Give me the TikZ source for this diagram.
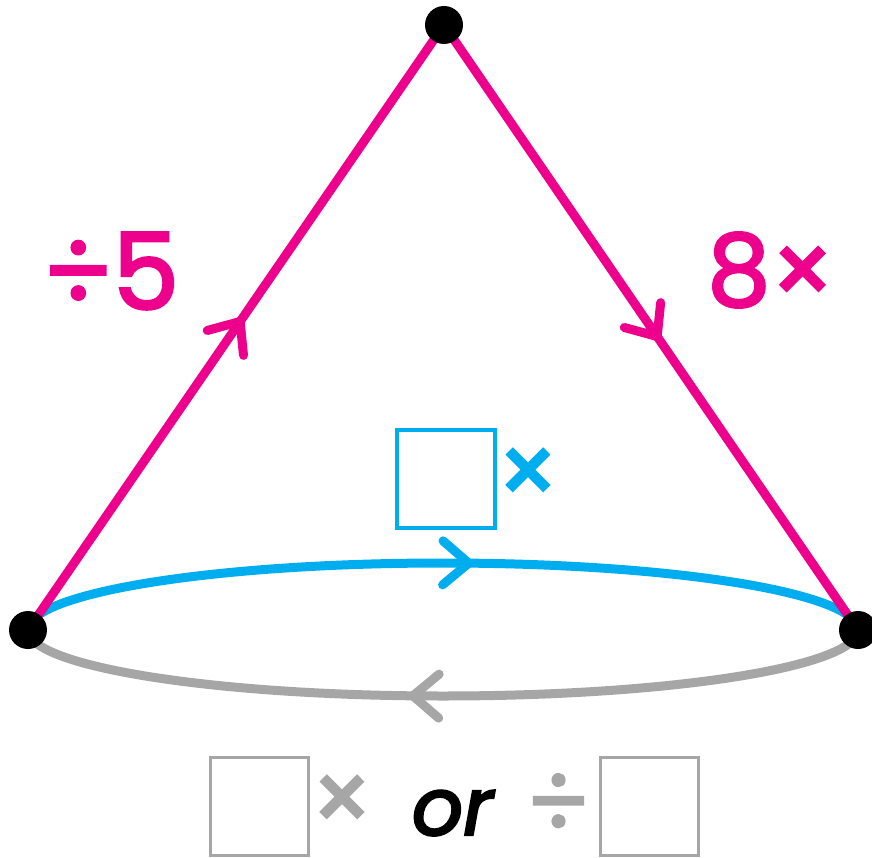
\documentclass[tikz,border=0pt]{standalone}
\usepackage{fontspec}
\setmainfont{Poppins}
\newfontfamily\lblfont{Poppins}[FakeBold=2.5]
\newfontfamily\orfont{Poppins}[FakeBold=3]
\usetikzlibrary{decorations.markings}
\definecolor{pk}{HTML}{EC008C}
\definecolor{bl}{HTML}{00AEEF}
\definecolor{gr}{HTML}{A6A6A6}
\tikzset{
  chev/.style 2 args={postaction={decorate},decoration={markings,
     mark=at position #1 with {\draw[#2,line width=9pt,line cap=round,line join=miter]
       (-26pt,22pt) -- (0pt,0pt) -- (-26pt,-22pt);}}},
  edgeline/.style={line width=9pt, line cap=round},
  dot/.style={circle, fill=black, minimum size=38pt, inner sep=0pt},
  lbl/.style={inner sep=0pt, outer sep=0pt},
  boxb/.style={draw=bl, line width=4pt},
  boxg/.style={draw=gr, line width=3pt},
}
\begin{document}
\begin{tikzpicture}[x=1pt,y=-1pt]
\useasboundingbox (0,0) rectangle (872,858);
% vertices
\coordinate (Lc) at (28,630);
\coordinate (Rc) at (858,630);
\coordinate (Tc) at (444,25);
% ellipse halves
\draw[edgeline, draw=gr, chev={0.535}{gr}] (Rc) arc[start angle=0, end angle=-180, x radius=415pt, y radius=66pt];
\draw[edgeline, draw=bl, chev={0.53}{bl}] (Lc) arc[start angle=180, end angle=0, x radius=415pt, y radius=67pt];
% triangle sides
\draw[edgeline, draw=pk, chev={0.51}{pk}] (Lc) -- (Tc);
\draw[edgeline, draw=pk, chev={0.515}{pk}] (Tc) -- (Rc);
% dots
\node[dot] (L) at (Lc) {};
\node[dot] (R) at (Rc) {};
\node[dot] (T) at (Tc) {};
% labels
\node[lbl, text=pk, font=\fontsize{106}{106}\lblfont] (divfive) at (111,271) {÷5};
\node[lbl, text=pk, font=\fontsize{100}{100}\lblfont] (eighttimes) at (771,270) {8×};
\draw[boxb] (397,430) rectangle (495,528);
\node[lbl, text=bl, font=\fontsize{96}{96}\lblfont] (btimes) at (528,477) {×};
\draw[boxg] (210,757) rectangle (308,855);
\draw[boxg] (600,757) rectangle (698,855);
\node[lbl, text=gr, font=\fontsize{96}{96}\lblfont] (gtimes) at (342,804) {×};
\node[lbl, anchor=base west, font=\fontsize{80}{80}\orfont\itshape] (or) at (412,835) {or};
\node[lbl, text=gr, font=\fontsize{96}{96}\lblfont] (gdiv) at (558,805) {÷};
\end{tikzpicture}
\end{document}
